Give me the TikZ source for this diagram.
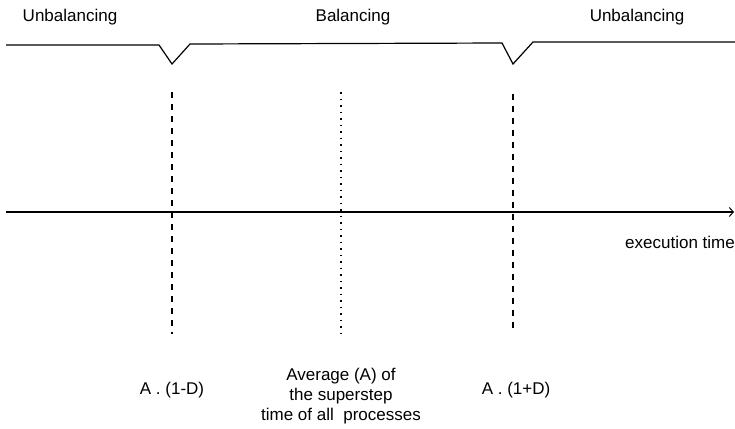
\documentclass[tikz,border=0pt]{standalone}
\usepackage{fontspec}
\setmainfont{Liberation Sans}
\usetikzlibrary{arrows.meta}
\begin{document}
\begin{tikzpicture}[x=1bp,y=-1bp,
  lbl/.style={font=\fontsize{17bp}{20bp}\selectfont, inner sep=0pt, anchor=base, align=center},
  curve/.style={line width=1.2bp, line join=miter},
  marker/.style={line width=1.2bp, dash pattern=on 6bp off 6bp},
  avgline/.style={line width=1.1bp, dash pattern=on 1.5bp off 5bp},
  axis/.style={line width=1.2bp, -{Straight Barb[length=4bp,width=9bp,line width=1bp]}}]
\useasboundingbox (0,0) rectangle (735,428);
% balance curve
\coordinate (c0) at (6,45);
\coordinate (c1) at (159,45);
\coordinate (v1) at (172,64);
\coordinate (c2) at (190,44);
\coordinate (c3) at (502,43);
\coordinate (v2) at (513,64);
\coordinate (c4) at (533,42);
\coordinate (c5) at (735,42);
\draw[curve] (c0) -- (c1) -- (v1) -- (c2) -- (c3) -- (v2) -- (c4) -- (c5);
% region labels
\node[lbl] (u1) at (70,21) {Unbalancing};
\node[lbl] (b) at (353,21) {Balancing};
\node[lbl] (u2) at (637,21) {Unbalancing};
% axis
\coordinate (a0) at (6,212);
\coordinate (a1) at (734,212);
\draw[axis] (a0) -- (a1);
\node[lbl] (et) at (680,248) {execution time};
% vertical markers
\coordinate (m1t) at (172,92);
\coordinate (m1b) at (172,334);
\coordinate (m2t) at (341,92);
\coordinate (m2b) at (341,335);
\coordinate (m3t) at (513,94);
\coordinate (m3b) at (513,334);
\draw[marker] (m1t) -- (m1b);
\draw[avgline] (m2t) -- (m2b);
\draw[marker] (m3t) -- (m3b);
% bottom labels
\node[lbl] (l1) at (172,394) {A . (1-D)};
\node[lbl] (l2) at (341,420) {Average (A) of\\the superstep\\time of all\ \ processes};
\node[lbl] (l3) at (516,394) {A . (1+D)};
\end{tikzpicture}
\end{document}
